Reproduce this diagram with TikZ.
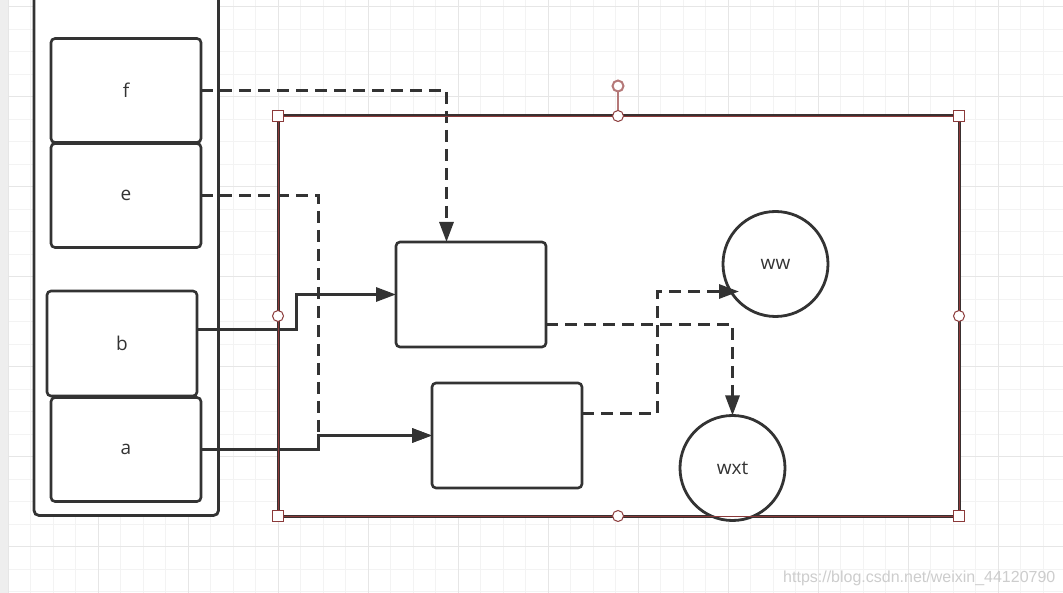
\documentclass[tikz,border=0pt]{standalone}
\usepackage{fontspec}
\setmainfont{Open Sans}
\newfontfamily\wmfont{Liberation Sans}
\usetikzlibrary{arrows.meta}
\definecolor{ink}{HTML}{333333}
\definecolor{sel}{HTML}{8B3A3A}
\definecolor{selrot}{HTML}{B57878}
\definecolor{gmin}{HTML}{F3F3F3}
\definecolor{gmaj}{HTML}{E6E6E6}
\definecolor{strip}{HTML}{EEEEEE}
\definecolor{wm}{HTML}{CDCDCD}
\definecolor{frame}{HTML}{3A3030}
\begin{document}
\begin{tikzpicture}[x=1pt,y=-1pt,
  lbl/.style={font=\fontsize{19}{22}\selectfont, text=ink},
  box/.style={draw=ink, line width=2.6pt, fill=white, rounded corners=4pt,
    minimum width=150pt, minimum height=104pt, inner sep=0pt, outer sep=0pt, lbl},
  circ/.style={draw=ink, line width=2.8pt, fill=white, circle,
    minimum size=105pt, inner sep=0pt, outer sep=0pt, lbl},
  conn/.style={draw=ink, line width=3pt},
  dconn/.style={conn, dash pattern=on 12pt off 7pt},
  tip/.style={-{Triangle[length=20pt,width=14pt]}},
  hsq/.style={draw=sel, fill=white, line width=1pt, minimum size=11pt, inner sep=0pt, outer sep=0pt},
  hci/.style={draw=sel, fill=white, line width=1pt, circle, minimum size=11pt, inner sep=0pt, outer sep=0pt},
  hrot/.style={draw=selrot, fill=white, line width=2pt, circle, minimum size=11pt, inner sep=0pt, outer sep=0pt}
]
\useasboundingbox (0,0) rectangle (1063,593);
\clip (0,0) rectangle (1063,593);
% background and grid
\fill[white] (0,0) rectangle (1063,593);
\foreach \i in {0,...,47} \draw[gmin, line width=1pt] ({8.3+22.5*\i},0) -- ({8.3+22.5*\i},593);
\foreach \i in {0,...,26} \draw[gmin, line width=1pt] (0,{6.7+22.5*\i}) -- (1063,{6.7+22.5*\i});
\foreach \i in {0,...,11} \draw[gmaj, line width=1pt] ({8.3+90*\i},0) -- ({8.3+90*\i},593);
\foreach \i in {0,...,6} \draw[gmaj, line width=1pt] (0,{6.7+90*\i}) -- (1063,{6.7+90*\i});
\fill[strip] (0,0) rectangle (8,593);

% outer container (cut by the top edge)
\draw[draw=ink, line width=2.8pt, fill=white, rounded corners=5pt] (34,-20) rectangle (218.5,515.5);

% selected container
\draw[draw=frame, line width=3pt, fill=white] (278,116) rectangle (959,516);

% left boxes
\node[box] (f) at (126,90.5) {f};
\node[box] (e) at (126,195.5) {e};
\node[box, minimum height=105pt] (b) at (122,343.5) {b};
\node[box] (a) at (126,449.5) {a};

% inner boxes
\node[box, minimum height=105pt] (box1) at (471,294.5) {};
\node[box, minimum height=105pt] (box2) at (507,435.5) {};

% circles
\node[circ] (ww) at (775.5,264) {ww};
\node[circ] (wxt) at (732.5,468) {wxt};

% junction coordinates
\coordinate (fj) at (446.5,90.5);
\coordinate (ej) at (318.5,435.5);
\coordinate (bs) at (197,329.5);
\coordinate (bj) at (296.5,294.5);
\coordinate (c1s) at (546,324.5);
\coordinate (c2s) at (582,413.5);
\coordinate (c2j) at (657.5,291.5);
\coordinate (wwin) at (739,291.5);

% connectors
\draw[conn, tip] (a.east) -| (ej) -- (box2.west);
\draw[dconn, tip] (e.east) -| (ej) -- (box2.west);
\draw[dconn, tip] (f.east) -- (fj) -- (fj |- box1.north);
\draw[conn, tip] (bs) -| (bj) -- (box1.west);
\draw[dconn, tip] (c1s) -| (wxt.north);
\draw[dconn, tip] (c2s) -| (c2j) -- (wwin);

% selection overlay
\draw[sel, line width=0.6pt] (278,116) rectangle (959,516);
\node[hrot] (rot) at (618,86) {};
\draw[selrot, line width=1.5pt] (rot.south) -- (618,116);
\node[hsq] (h1) at (278,116) {};
\node[hsq] (h2) at (959,116) {};
\node[hsq] (h3) at (278,516) {};
\node[hsq] (h4) at (959,516) {};
\node[hci] (m1) at (618,116) {};
\node[hci] (m2) at (278,316) {};
\node[hci] (m3) at (959,316) {};
\node[hci] (m4) at (618,516) {};

% watermark
\node[anchor=base west, inner sep=0pt, text=wm, font=\wmfont\fontsize{16}{18}\selectfont] (wmk) at (783,582) {https://blog.csdn.net/weixin\_44120790};
\end{tikzpicture}
\end{document}
